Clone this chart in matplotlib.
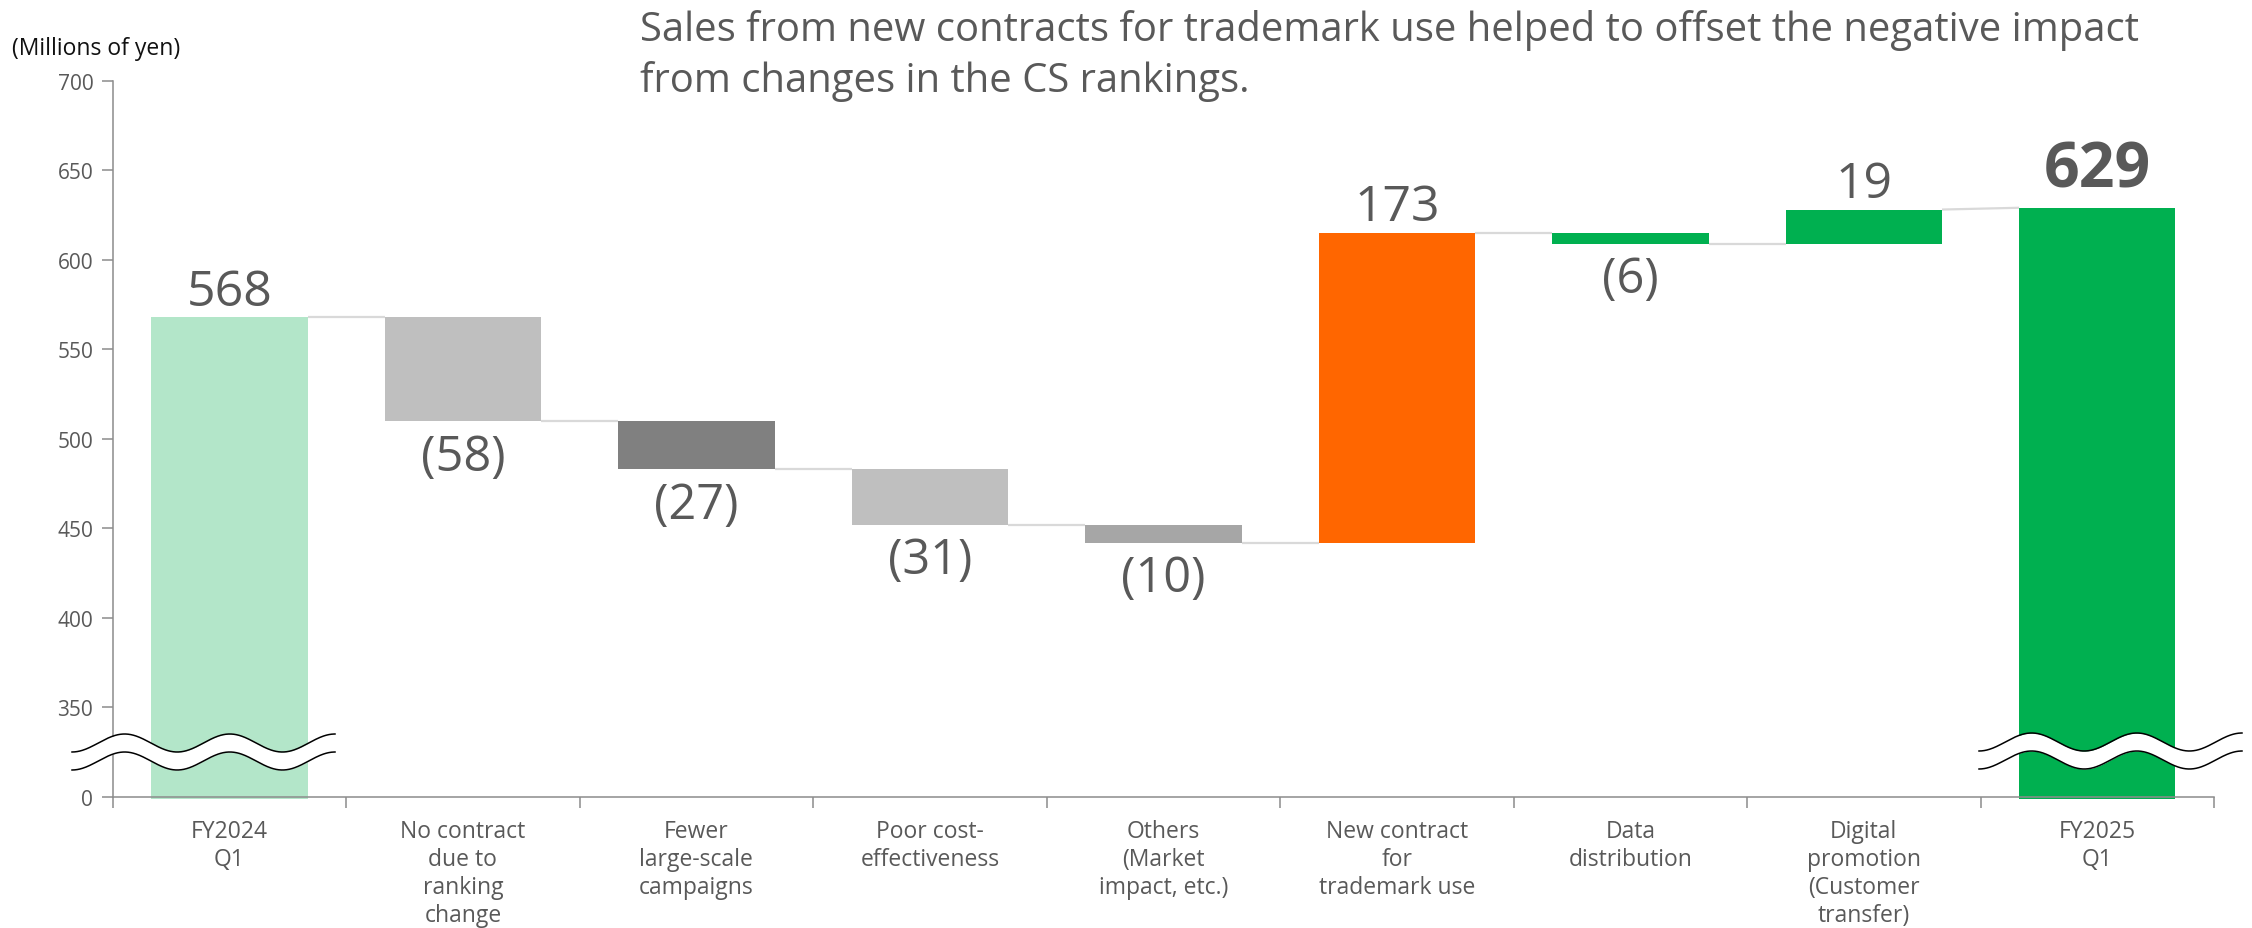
import numpy as np
import matplotlib
matplotlib.use("Agg")
import matplotlib.pyplot as plt
from matplotlib.ticker import FixedLocator, NullFormatter

# ---------------- data ----------------
categories = ["FY2024\nQ1", "No contract\ndue to\nranking\nchange", "Fewer\nlarge-scale\ncampaigns",
              "Poor cost-\neffectiveness", "Others\n(Market\nimpact, etc.)",
              "New contract\nfor\ntrademark use", "Data\ndistribution",
              "Digital\npromotion\n(Customer\ntransfer)", "FY2025\nQ1"]
start_total = 568
changes = [-58, -27, -31, -10, 173, -6, 19]
end_total = 629
value_labels = ["568", "(58)", "(27)", "(31)", "(10)", "173", "(6)", "19", "629"]
ytick_values = [300, 350, 400, 450, 500, 550, 600, 650, 700]
ytick_labels = ["0", "350", "400", "450", "500", "550", "600", "650", "700"]
bar_colors = ["#B3E6C9", "#BFBFBF", "#808080", "#BFBFBF", "#A6A6A6",
              "#FF6600", "#00B050", "#00B050", "#00B050"]
title_lines = ["Sales from new contracts for trademark use helped to offset the negative impact",
               "from changes in the CS rankings."]
unit_label = "(Millions of yen)"
axis_floor = 300

# ---------------- style ----------------
plt.rcParams['font.family'] = ['Open Sans', 'DejaVu Sans']
TXT = "#595959"
AXC = "#8C8C8C"
W, H = 2252, 929
fig = plt.figure(figsize=(W / 100, H / 100), dpi=100)
ax = fig.add_axes([112.7 / W, 1 - 798 / H, (2214 - 112.7) / W, (798 - 81.6) / H])

n = len(categories)
x = np.arange(n)
levels = [start_total]
for c in changes:
    levels.append(levels[-1] + c)

bottoms, tops = [], []
for i in range(n):
    if i == 0:
        bottoms.append(axis_floor); tops.append(start_total)
    elif i == n - 1:
        bottoms.append(axis_floor); tops.append(end_total)
    else:
        bottoms.append(min(levels[i - 1], levels[i])); tops.append(max(levels[i - 1], levels[i]))
bottoms = np.array(bottoms, float)
tops = np.array(tops, float)

bw = 0.67
drop = 1.2  # bars reach slightly below the axis line
plot_bottoms = np.where(bottoms == axis_floor, bottoms - drop, bottoms)
ax.bar(x, tops - plot_bottoms, bottom=plot_bottoms, width=bw, color=bar_colors,
       zorder=1, clip_on=False, linewidth=0)

# connectors
for i in range(n - 1):
    yl = levels[i] if i < len(levels) else end_total
    yr = levels[i] if i + 1 < len(levels) else end_total
    ax.plot([x[i] + bw / 2, x[i + 1] - bw / 2], [yl, yr], color="#D9D9D9", lw=1.6, zorder=1,
            solid_capstyle="butt")

# value labels
for i in range(n):
    is_total = i == 0 or i == n - 1
    neg = (not is_total) and changes[i - 1] < 0
    if neg:
        ax.annotate(value_labels[i], (x[i], bottoms[i]), xytext=(0, -8), textcoords="offset points",
                    ha="center", va="top", fontsize=35, color=TXT)
    elif i == n - 1:
        ax.annotate(value_labels[i], (x[i], tops[i]), xytext=(0, 15), textcoords="offset points",
                    ha="center", va="baseline", fontsize=45, fontweight="bold", color=TXT)
    else:
        ax.annotate(value_labels[i], (x[i], tops[i]), xytext=(0, 9), textcoords="offset points",
                    ha="center", va="baseline", fontsize=36, color=TXT)

# axes
ax.set_xlim(-0.5, n - 0.5)
ax.set_ylim(axis_floor, 700)
ax.set_yticks(ytick_values)
ax.set_yticklabels(ytick_labels)
ax.xaxis.set_major_locator(FixedLocator(np.arange(n + 1) - 0.5))
ax.xaxis.set_major_formatter(NullFormatter())
ax.xaxis.set_minor_locator(FixedLocator(x))
ax.set_xticklabels(categories, minor=True, fontsize=16.5, color=TXT, linespacing=1.22)
ax.tick_params(axis="x", which="minor", length=0, pad=16)
ax.tick_params(axis="x", which="major", length=8, width=1.1, color=AXC, direction="out")
ax.tick_params(axis="y", length=8, width=1.1, color=AXC, labelsize=15, labelcolor=TXT, pad=6)
for s in ["top", "right"]:
    ax.spines[s].set_visible(False)
for s in ["left", "bottom"]:
    ax.spines[s].set_color(AXC)
    ax.spines[s].set_linewidth(1.1)

# axis-break marks (wavy double line)
def wave(x0, x1, yc):
    xs = np.linspace(x0, x1, 300)
    P = (x1 - x0) / 2.5
    ytop = yc + 9 * np.cos(2 * np.pi * (xs - x0) / P)
    ybot = ytop + 18
    fx = xs / W
    ft = 1 - ytop / H
    fb = 1 - ybot / H
    ax.fill_between(fx, fb, ft, color="white", transform=fig.transFigure, zorder=5, clip_on=False,
                    linewidth=0)
    ax.plot(fx, ft, color="black", lw=1.1, transform=fig.transFigure, zorder=6, clip_on=False)
    ax.plot(fx, fb, color="black", lw=1.1, transform=fig.transFigure, zorder=6, clip_on=False)

wave(72, 335, 744)
wave(1979, 2242, 743)

# texts
fig.text(12 / W, 1 - 55 / H, unit_label, fontsize=16.5, color="#111111", ha="left", va="baseline")
fig.text(640 / W, 1 - 41 / H, title_lines[0], fontsize=28.8, color=TXT, ha="left", va="baseline")
fig.text(640 / W, 1 - 92 / H, title_lines[1], fontsize=28.8, color=TXT, ha="left", va="baseline")

fig.savefig("out.png", dpi=100, facecolor="white")
